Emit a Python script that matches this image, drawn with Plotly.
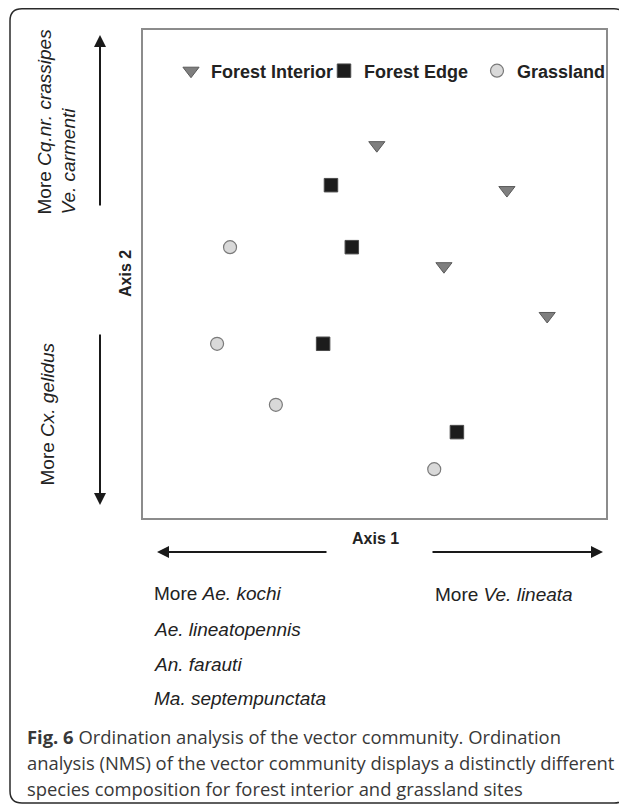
import plotly.graph_objects as go

# ---- data (NMS ordination scores, arbitrary units 0-100) ----
groups = ["Forest Interior", "Forest Edge", "Grassland"]
interior_x = [50.5, 78.6, 65.0, 87.3]
interior_y = [76.4, 67.2, 51.6, 41.4]
edge_x = [40.6, 45.1, 38.9, 67.8]
edge_y = [68.2, 55.5, 35.7, 17.6]
grass_x = [18.8, 16.0, 28.7, 62.9]
grass_y = [55.5, 35.7, 23.2, 10.0]

OFF = 8                      # page body margin
W, H = 627 - OFF, 805 - OFF  # figure size
# plot area (page pixels)
PL, PR, PT, PB = 143, 606, 30, 518
L, R, T, B = PL - OFF, PR - OFF, PT - OFF, PB - OFF


def px(x):
    """page pixel x -> paper coordinate"""
    return (x - PL) / (PR - PL)


def py(y):
    """page pixel y -> paper coordinate"""
    return (PB - y) / (PB - PT)


fig = go.Figure()
fig.add_trace(go.Scatter(
    x=interior_x, y=interior_y, mode="markers", name="<b>" + groups[0] + "</b>",
    marker=dict(symbol="triangle-down", size=14, color="#7f7f7f",
                line=dict(color="#5a5a5a", width=1))))
fig.add_trace(go.Scatter(
    x=edge_x, y=edge_y, mode="markers", name="<b>" + groups[1] + "</b>",
    marker=dict(symbol="square", size=13.5, color="#1c1c1c",
                line=dict(color="#4a4a4a", width=1))))
fig.add_trace(go.Scatter(
    x=grass_x, y=grass_y, mode="markers", name="<b>" + groups[2] + "</b>",
    marker=dict(symbol="circle", size=13, color="#d9d9d9",
                line=dict(color="#7a7a7a", width=1.2))))

axis_style = dict(range=[0, 100], showline=True, mirror=True, linecolor="#8c8c8c",
                  linewidth=1.5, showticklabels=False, showgrid=False,
                  zeroline=False, ticks="", fixedrange=True)

font_main = "Liberation Sans, Arial, sans-serif"
annotations = []


def text(t, x, y, size=19, xanchor="left", yanchor="middle", angle=0, align="left",
         color="#222222", family=font_main):
    annotations.append(dict(text=t, x=px(x), y=py(y), xref="paper", yref="paper",
                            showarrow=False, xanchor=xanchor, yanchor=yanchor,
                            textangle=angle, align=align,
                            font=dict(size=size, color=color, family=family)))


def arrow(tip, tail):
    annotations.append(dict(text="", x=px(tip[0]), y=py(tip[1]), xref="paper", yref="paper",
                            ax=tail[0] - tip[0], ay=tail[1] - tip[1], axref="pixel",
                            ayref="pixel", showarrow=True, arrowhead=2, arrowsize=1.2,
                            arrowwidth=2, arrowcolor="#1a1a1a", standoff=0))


text("<b>Axis 1</b>", 375, 538, size=16, xanchor="center")
text("<b>Axis 2</b>", 125, 274, size=16, xanchor="center", angle=-90)
text("More <i>Cq.nr. crassipes</i><br><i>Ve. carmenti</i>", 56.5, 217,
     xanchor="center", yanchor="bottom", angle=-90)
text("More <i>Cx. gelidus</i>", 47, 488, xanchor="center", yanchor="bottom", angle=-90)
text("More <i>Ae. kochi</i>", 152, 593)
text("<i>Ae. lineatopennis</i>", 152, 629)
text("<i>An. farauti</i>", 152, 664)
text("<i>Ma. septempunctata</i>", 152, 698)
text("More <i>Ve. lineata</i>", 433, 594)

arrow((100, 35), (100, 207))
arrow((100, 505), (100, 333))
arrow((157, 552), (328, 552))
arrow((603, 552), (431, 552))

cap_font = "Open Sans, Noto Sans, sans-serif"
cap_size = 18.4
text("<b>Fig. 6</b> Ordination analysis of the vector community. Ordination", 25, 736,
     size=cap_size, color="#383838", family=cap_font)
text("analysis (NMS) of the vector community displays a distinctly different", 25, 762,
     size=cap_size, color="#383838", family=cap_font)
text("species composition for forest interior and grassland sites", 25, 788,
     size=cap_size, color="#383838", family=cap_font)

# outer rounded frame (page pixels)
x0, x1, y0, y1, r = px(10), px(626), py(8.8), py(803), 12
rx, ry = r / (PR - PL), r / (PB - PT)
path = (f"M {x0 + rx},{y0} L {x1 - rx},{y0} Q {x1},{y0} {x1},{y0 - ry} "
        f"L {x1},{y1 + ry} Q {x1},{y1} {x1 - rx},{y1} L {x0 + rx},{y1} "
        f"Q {x0},{y1} {x0},{y1 + ry} L {x0},{y0 - ry} Q {x0},{y0} {x0 + rx},{y0} Z")

fig.update_layout(
    width=W, height=H,
    margin=dict(l=L, r=W - R, t=T, b=H - B, autoexpand=False),
    paper_bgcolor="white", plot_bgcolor="white",
    xaxis=axis_style, yaxis=axis_style,
    showlegend=True,
    legend=dict(orientation="h", x=px(171), y=py(71), xanchor="left", yanchor="middle",
                entrywidth=108, entrywidthmode="pixels", bgcolor="rgba(0,0,0,0)",
                font=dict(size=18, color="#222222", family=font_main),
                itemclick=False, itemdoubleclick=False),
    annotations=annotations,
    shapes=[dict(type="path", path=path, xref="paper", yref="paper",
                 line=dict(color="#2a2a2a", width=1.5), layer="below")],
)

fig.write_html("out.html")
